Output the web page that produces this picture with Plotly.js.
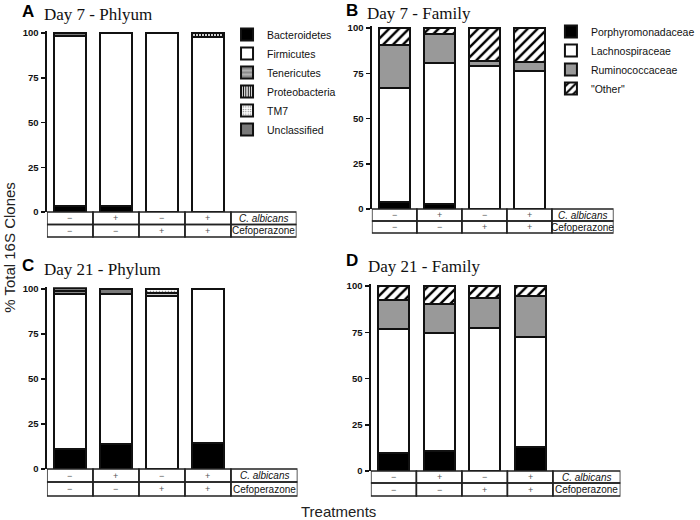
<!DOCTYPE html>
<html><head><meta charset="utf-8">
<script src="https://cdn.plot.ly/plotly-3.0.1.min.js"></script>
<style>html,body{margin:0;padding:0;background:#fff}#chart{width:700px;height:520px}</style>
</head><body><div id="chart"></div>
<script>
// ---------- data ----------
const treatments = ['Control', 'C. albicans', 'Cefoperazone', 'Cefoperazone + C. albicans'];
const albicansRow = ['−', '+', '−', '+'];
const cefoperazoneRow = ['−', '−', '+', '+'];
const rowLabels = ['<i>C. albicans</i>', 'Cefoperazone'];

const phylumNames = ['Bacteroidetes', 'Firmicutes', 'Tenericutes', 'Proteobacteria', 'TM7', 'Unclassified'];
const familyNames = ['Porphyromonadaceae', 'Lachnospiraceae', 'Ruminococcaceae', '"Other"'];

// Day 7 - Phylum (% of clones)
const d7Bacteroidetes  = [3.5, 3.3, 0, 0];
const d7Firmicutes     = [95, 96.7, 100, 97.5];
const d7Tenericutes    = [0, 0, 0, 0];
const d7Proteobacteria = [0, 0, 0, 2.5];
const d7TM7            = [0, 0, 0, 0];
const d7Unclassified   = [1.5, 0, 0, 0];

// Day 7 - Family
const d7Porphyromonadaceae = [4, 2.5, 0, 0];
const d7Lachnospiraceae    = [63, 78, 79, 76];
const d7Ruminococcaceae    = [23.5, 16, 3, 5];
const d7Other              = [9.5, 3.5, 18, 19];

// Day 21 - Phylum
const d21Bacteroidetes  = [11, 14, 0, 14.5];
const d21Firmicutes     = [86.5, 83.5, 96, 85.5];
const d21Tenericutes    = [1.5, 0, 2, 0];
const d21Proteobacteria = [0, 0, 0, 0];
const d21TM7            = [0, 0, 2, 0];
const d21Unclassified   = [1.5, 2.5, 0, 0];

// Day 21 - Family
const d21Porphyromonadaceae = [10, 11, 0, 13];
const d21Lachnospiraceae    = [66.5, 63.5, 77.5, 59.5];
const d21Ruminococcaceae    = [16, 15.5, 16, 22];
const d21Other              = [7.5, 10, 6.5, 5.5];

// ---------- styles ----------
const OUT = {color: '#111', width: 2};
const phylumStyles = [
  {color: '#000000', line: OUT},
  {color: '#ffffff', line: OUT},
  {color: '#8a8a8a', line: OUT, pattern: {shape: '-', fgcolor: '#d8d8d8', bgcolor: '#8a8a8a', fillmode: 'replace', size: 5, solidity: 0.25}},
  {color: '#ffffff', line: OUT, pattern: {shape: '|', fgcolor: '#000', bgcolor: '#ffffff', size: 3, solidity: 0.45}},
  {color: '#ffffff', line: OUT, pattern: {shape: '.', fgcolor: '#777', bgcolor: '#ffffff', size: 3, solidity: 0.25}},
  {color: '#7a7a7a', line: OUT}
];
const familyStyles = [
  {color: '#000000', line: OUT},
  {color: '#ffffff', line: OUT},
  {color: '#999999', line: OUT},
  {color: '#ffffff', line: OUT, pattern: {shape: '/', fgcolor: '#000', bgcolor: '#ffffff', size: 7, solidity: 0.35}}
];

// panel geometry in pixels
const W = 700, H = 520;
const panels = [
  {id: '', letter: 'A', title: 'Day 7 - Phlyum', left: 48, catW: 47, right: 303, y0: 212, y100: 33, rows: [212, 224.5, 237],
   series: [d7Bacteroidetes, d7Firmicutes, d7Tenericutes, d7Proteobacteria, d7TM7, d7Unclassified], names: phylumNames, styles: phylumStyles, legend: 'legend',
   letterPos: [29, 11], titlePos: [43, 14]},
  {id: '2', letter: 'B', title: 'Day 7 - Family', left: 380, catW: 46, right: 627, y0: 209, y100: 28, rows: [209, 221, 233],
   series: [d7Porphyromonadaceae, d7Lachnospiraceae, d7Ruminococcaceae, d7Other], names: familyNames, styles: familyStyles, legend: 'legend2',
   letterPos: [360, 10], titlePos: [373, 13]},
  {id: '3', letter: 'C', title: 'Day 21 - Phylum', left: 48, catW: 47, right: 304, y0: 469, y100: 289, rows: [469, 482, 496],
   series: [d21Bacteroidetes, d21Firmicutes, d21Tenericutes, d21Proteobacteria, d21TM7, d21Unclassified], names: phylumNames, styles: phylumStyles, legend: null,
   letterPos: [29, 265], titlePos: [43, 269]},
  {id: '4', letter: 'D', title: 'Day 21 - Family', left: 379, catW: 46.5, right: 634, y0: 471, y100: 286, rows: [471, 483, 496],
   series: [d21Porphyromonadaceae, d21Lachnospiraceae, d21Ruminococcaceae, d21Other], names: familyNames, styles: familyStyles, legend: null,
   letterPos: [360, 260], titlePos: [374, 266]}
];

const YMAX = 101;
const traces = [];
const layout = {
  width: W, height: H, margin: {l: 0, r: 0, t: 0, b: 0},
  paper_bgcolor: '#fff', plot_bgcolor: 'rgba(0,0,0,0)',
  barmode: 'stack', showlegend: true,
  font: {family: 'Liberation Sans, Arial, sans-serif', color: '#111'},
  shapes: [], annotations: []
};

panels.forEach(p => {
  const xa = 'xaxis' + p.id, ya = 'yaxis' + p.id;
  const xr = 'x' + p.id, yr = 'y' + p.id;
  const n = treatments.length;
  const R = (n - 0.5) + (p.right - (p.left + n * p.catW)) / p.catW;
  const topPx = p.y100 - (p.y0 - p.y100) / 100 * (YMAX - 100);
  layout[xa] = {domain: [p.left / W, p.right / W], range: [-0.5, R], type: 'category',
    showline: false, showticklabels: false, ticks: '', showgrid: false, zeroline: false, anchor: yr, fixedrange: true};
  layout[ya] = {domain: [1 - p.y0 / H, 1 - topPx / H], range: [0, YMAX], anchor: xr,
    tickvals: [0, 25, 50, 75, 100], ticks: 'outside', ticklen: 4, tickwidth: 1.5, tickcolor: '#111',
    showline: true, linewidth: 1.5, linecolor: '#111', showgrid: false, zeroline: false,
    tickfont: {size: 9.5, weight: 'bold', color: '#111', family: 'Liberation Sans, Arial, sans-serif'}, ticklabelstandoff: 1};

  p.series.forEach((vals, k) => {
    const t = {type: 'bar', x: treatments, y: vals, name: p.names[k], xaxis: xr, yaxis: yr,
      width: 0.68, marker: JSON.parse(JSON.stringify(p.styles[k])), hoverinfo: 'name+y'};
    if (p.legend) { t.legend = p.legend; t.showlegend = true; } else { t.showlegend = false; }
    traces.push(t);
  });

  // treatment table below the bars
  const rowsPaper = p.rows.map(v => 1 - v / H);
  const rowVals = [albicansRow, cefoperazoneRow];
  for (let r = 0; r < 2; r++) {
    const yTop = rowsPaper[r], yBot = rowsPaper[r + 1];
    for (let i = 0; i < n; i++) {
      layout.shapes.push({type: 'rect', xref: xr, yref: 'paper', x0: i - 0.5, x1: i + 0.5, y0: yBot, y1: yTop,
        line: {color: '#222', width: 1.5}, fillcolor: 'rgba(0,0,0,0)'});
      layout.annotations.push({xref: xr, yref: 'paper', x: i, y: (yTop + yBot) / 2, text: rowVals[r][i],
        showarrow: false, font: {size: 9, color: '#555'}, xanchor: 'center', yanchor: 'middle'});
    }
    layout.shapes.push({type: 'rect', xref: xr, yref: 'paper', x0: n - 0.5, x1: R, y0: yBot, y1: yTop,
      line: {color: '#222', width: 1.5}, fillcolor: 'rgba(0,0,0,0)'});
    layout.annotations.push({xref: xr, yref: 'paper', x: (n - 0.5 + R) / 2, y: (yTop + yBot) / 2, text: rowLabels[r],
      showarrow: false, font: {size: 10, color: '#111'}, xanchor: 'center', yanchor: 'middle'});
  }

  // panel letter and title
  layout.annotations.push({xref: 'paper', yref: 'paper', x: p.letterPos[0] / W, y: 1 - p.letterPos[1] / H, text: '<b>' + p.letter + '</b>',
    showarrow: false, xanchor: 'center', yanchor: 'middle', font: {size: 17, color: '#000', family: 'Liberation Sans, Arial, sans-serif'}});
  layout.annotations.push({xref: 'paper', yref: 'paper', x: p.titlePos[0] / W, y: 1 - p.titlePos[1] / H, text: p.title,
    showarrow: false, xanchor: 'left', yanchor: 'middle', font: {size: 17, color: '#111', family: 'Liberation Serif, Times New Roman, serif'}});
});

layout.legend = {x: 232 / W, y: 1 - 20 / H, xanchor: 'left', yanchor: 'top', traceorder: 'normal',
  bgcolor: 'rgba(0,0,0,0)', font: {size: 10.5, color: '#111'}, itemclick: false, itemdoubleclick: false};
layout.legend2 = {x: 563 / W, y: 1 - 17 / H, xanchor: 'left', yanchor: 'top', traceorder: 'normal',
  bgcolor: 'rgba(0,0,0,0)', font: {size: 10.5, color: '#111'}, itemclick: false, itemdoubleclick: false};

// axis titles
layout.annotations.push({xref: 'paper', yref: 'paper', x: 9 / W, y: 1 - 247 / H, text: '% Total 16S Clones', textangle: -90,
  showarrow: false, xanchor: 'center', yanchor: 'middle', font: {size: 15, color: '#222'}});
layout.annotations.push({xref: 'paper', yref: 'paper', x: 346 / W, y: 1 - 511 / H, text: 'Treatments',
  showarrow: false, xanchor: 'center', yanchor: 'middle', font: {size: 15, color: '#222'}});

Plotly.newPlot('chart', traces, layout, {staticPlot: true, displayModeBar: false});
</script>
</body></html>
